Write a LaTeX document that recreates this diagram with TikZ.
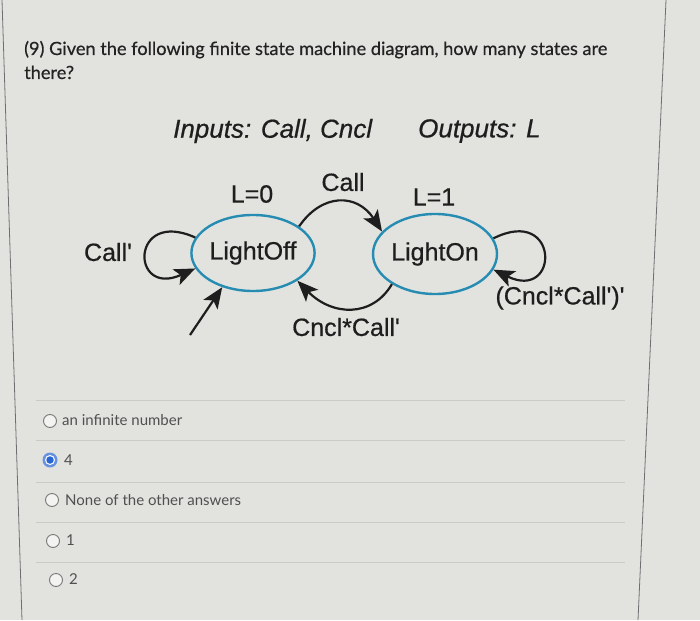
\documentclass[tikz,border=0pt]{standalone}
\usepackage{fontspec}
\setmainfont{Lato}
\newfontfamily\diag{Liberation Sans}[FakeBold=0.6]
\newfontfamily\qfont{Lato}[FakeBold=0.5]
\usetikzlibrary{shapes.geometric,arrows.meta}
\definecolor{bg}{RGB}{226,227,223}
\definecolor{ring}{RGB}{38,140,178}
\definecolor{ink}{RGB}{30,30,30}
\definecolor{qink}{RGB}{35,35,35}
\definecolor{aink}{RGB}{80,80,80}
\definecolor{rad}{RGB}{120,120,120}
\definecolor{sel}{RGB}{40,100,210}
\definecolor{sep}{RGB}{202,203,200}
\definecolor{frame}{RGB}{110,110,115}
\tikzset{
  state/.style={ellipse, draw=ring, line width=2.4pt, inner sep=0pt, minimum width=120pt, minimum height=76pt, font=\diag\fontsize{25}{25}\selectfont, text=ink},
  lab/.style={font=\diag\fontsize{25}{25}\selectfont, text=ink, inner sep=0pt},
  hdr/.style={font=\diag\itshape\fontsize{26}{26}\selectfont, text=ink, inner sep=0pt, anchor=west},
  arr/.style={draw=ink, line width=2.2pt, -{Stealth[length=21pt,width=17pt,inset=5pt]}},
  qtext/.style={font=\qfont\fontsize{18.2}{18.2}\selectfont, text=qink, inner sep=0pt, anchor=base west},
  ans/.style={font=\fontsize{15}{15}\selectfont, text=aink, inner sep=0pt, anchor=west},
  radio/.style={circle, draw=rad, line width=0.9pt, fill=white!60!bg, minimum size=13pt, inner sep=0pt},
  sepline/.style={draw=sep, line width=0.8pt}
}
\begin{document}
\begin{tikzpicture}[x=1pt,y=-1pt]
\fill[bg] (0,0) rectangle (700,620);
\useasboundingbox (0,0) rectangle (700,620);
% frame lines
\draw[frame, line width=0.8pt] (2,0) -- (22,620);
\draw[frame, line width=0.8pt] (666,0) -- (638,620);
% separators
\foreach \yy in {400,440,482,522,562} \draw[sepline] (36,\yy) -- (625,\yy);
% question
\node[qtext] (q1) at (24,55) {(9) Given the following finite state machine diagram, how many states are};
\node[qtext] (q2) at (24,79) {there?};
% header
\node[hdr] (inp) at (173,131) {Inputs: Call, Cncl};
\node[hdr] (outp) at (418,131) {Outputs: L};
% states
\node[state] (off) at (253,253) {LightOff};
\node[state, minimum width=124pt, minimum height=80pt] (on) at (435,254) {LightOn};
% labels
\node[lab] (l0) at (252,194) {L=0};
\node[lab] (lcall) at (343,182) {Call};
\node[lab] (l1) at (434,197) {L=1};
\node[lab] (lcallp) at (108,252) {Call'};
\node[lab] (lcc) at (346,327) {Cncl*Call'};
\node[lab] (lnot) at (560,298) {(Cncl*Call')'};
% transitions
\coordinate (init) at (190,335);
\draw[arr] (init) -- (off.228);
\draw[arr] (off.165) .. controls (130,208) and (130,298) .. (off.195);
\draw[arr] (on.15) .. controls (560,205) and (560,302) .. (on.-15);
\draw[arr] (off.30) .. controls (322,193) and (357,193) .. (on.157);
\draw[arr] (on.215) .. controls (372,318) and (332,316) .. (off.-32);
% answers
\node[radio] (r1) at (50,421) {};
\node[ans] (a1) at (62,420) {an infinite number};
\node[circle, fill=sel!70, minimum size=15pt, inner sep=0pt] (r2) at (50,460) {};
\node[circle, fill=white, minimum size=10pt, inner sep=0pt] at (r2) {};
\node[circle, fill=sel, minimum size=7.5pt, inner sep=0pt] at (r2) {};
\node[ans] (a2) at (64,460) {4};
\node[radio] (r3) at (52,500) {};
\node[ans] (a3) at (65,500) {None of the other answers};
\node[radio] (r4) at (53,541) {};
\node[ans] (a4) at (66,540) {1};
\node[radio] (r5) at (56,580) {};
\node[ans] (a5) at (69,579) {2};
\end{tikzpicture}
\end{document}
